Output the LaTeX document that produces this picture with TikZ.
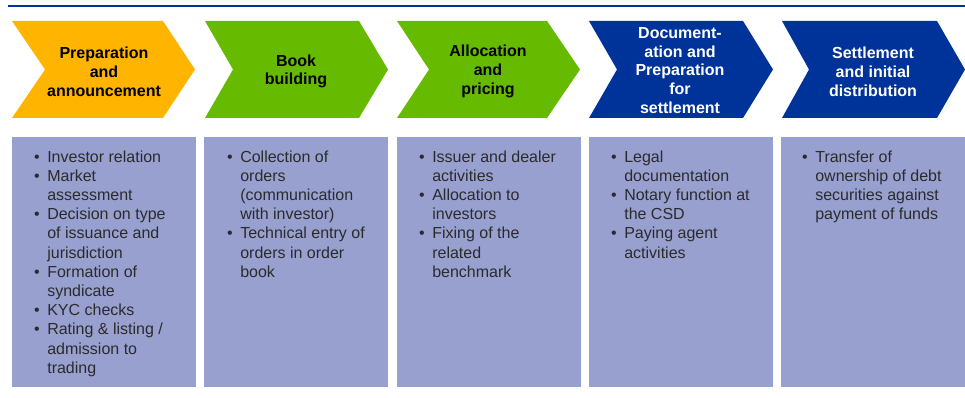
\documentclass[tikz,border=0pt]{standalone}
\usepackage{fontspec}
\setmainfont{Liberation Sans}
\definecolor{topline}{HTML}{003399}
\definecolor{cyellow}{HTML}{FFB400}
\definecolor{cgreen}{HTML}{66BB00}
\definecolor{cblue}{HTML}{003399}
\definecolor{boxfill}{HTML}{98A0D0}
\definecolor{boxtext}{HTML}{2B2B2B}
\newcommand{\bl}{\textbullet}
\newcommand{\chev}[5]{% left, notch, topright, point, colour
  \fill[#5] (#1,21) -- (#3,21) -- (#4,69.5) -- (#3,118) -- (#1,118) -- (#2,69.5) -- cycle;}
\tikzset{
  head/.style={font=\bfseries\fontsize{16}{18.8}\selectfont, align=center, inner sep=0pt},
  panel/.style={fill=boxfill, draw=none, anchor=north west, inner sep=0pt, minimum height=250pt},
  items/.style={anchor=north west, inner sep=0pt, text=boxtext, font=\fontsize{16}{19.2}\selectfont}
}
\newcommand{\blist}[1]{\begin{tabular}{@{}l@{\hspace{7.5pt}}l@{}}#1\end{tabular}}
\begin{document}
\begin{tikzpicture}[x=1pt,y=-1pt]
\useasboundingbox (0,0) rectangle (965,398);
\coordinate (ls) at (8,6);
\coordinate (le) at (965,6);
\draw[topline, line width=2pt] (ls) -- (le);
% chevrons
\chev{12}{45}{163}{195}{cyellow}
\chev{205}{233}{359}{388}{cgreen}
\chev{397}{429}{547}{580}{cgreen}
\chev{589}{617}{743}{773}{cblue}
\chev{782}{809}{937}{965}{cblue}
\node[head] (h1) at (104,71.5) {Preparation\\and\\announcement};
\node[head] (h2) at (296,71.5) {Book\\building};
\node[head] (h3) at (488,71.5) {Allocation\\and\\pricing};
\node[head, text=white] (h4) at (680,70.5) {Document-\\ation and\\Preparation\\for\\settlement};
\node[head, text=white] (h5) at (873,71.5) {Settlement\\and initial\\distribution};
% panels
\node[panel, minimum width=184pt] (b1) at (12,136.5) {};
\node[panel, minimum width=184pt] (b2) at (204,136.5) {};
\node[panel, minimum width=184pt] (b3) at (397,136.5) {};
\node[panel, minimum width=184pt] (b4) at (589,136.5) {};
\node[panel, minimum width=184pt] (b5) at (781,136.5) {};
\node[items] (t1) at (34,148.5) {\blist{\bl & Investor relation\\ \bl & Market\\ & assessment\\ \bl & Decision on type\\ & of issuance and\\ & jurisdiction\\ \bl & Formation of\\ & syndicate\\ \bl & KYC checks\\ \bl & Rating \& listing /\\ & admission to\\ & trading}};
\node[items] (t2) at (227,148.5) {\blist{\bl & Collection of\\ & orders\\ & (communication\\ & with investor)\\ \bl & Technical entry of\\ & orders in order\\ & book}};
\node[items] (t3) at (419,148.5) {\blist{\bl & Issuer and dealer\\ & activities\\ \bl & Allocation to\\ & investors\\ \bl & Fixing of the\\ & related\\ & benchmark}};
\node[items] (t4) at (611,148.5) {\blist{\bl & Legal\\ & documentation\\ \bl & Notary function at\\ & the CSD\\ \bl & Paying agent\\ & activities}};
\node[items] (t5) at (802,148.5) {\blist{\bl & Transfer of\\ & ownership of debt\\ & securities against\\ & payment of funds}};
\end{tikzpicture}
\end{document}
